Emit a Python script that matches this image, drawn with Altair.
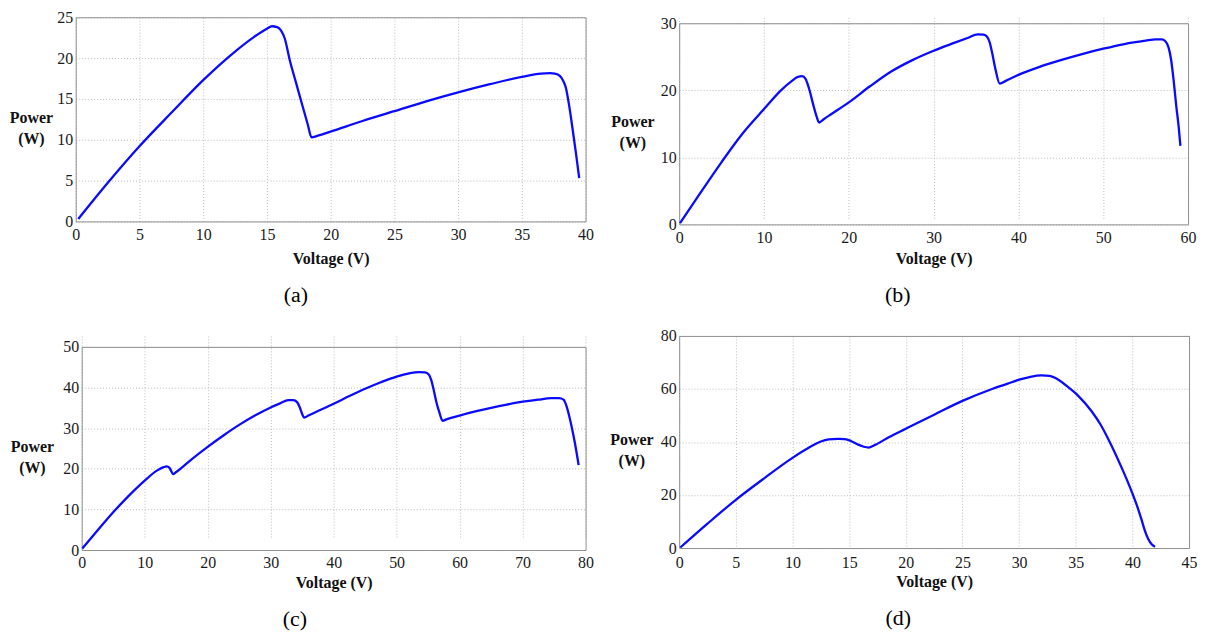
import altair as alt
import pandas as pd

# ---------------- data ----------------
# (a)
volt_a = [0.2, 2.5, 5, 7.5, 10, 12.5, 14, 15, 15.4, 15.8, 16.1, 16.4, 16.8, 17.3, 17.8, 18.2,
          18.5, 19.0, 20, 22.5, 25, 27.5, 30, 32.5, 35, 36.5, 37.2, 37.6, 38.0, 38.25, 38.45,
          38.7, 39.0, 39.25, 39.5]
power_a = [0.3, 4.7, 9.2, 13.3, 17.3, 20.8, 22.6, 23.6, 23.9, 23.8, 23.4, 22.4, 19.7, 16.9, 14.1, 11.9,
           10.3, 10.5, 11.0, 12.3, 13.5, 14.7, 15.8, 16.8, 17.7, 18.1, 18.15, 18.1, 17.8, 17.2, 16.4,
           14.3, 11.1, 8.3, 5.3]

# (b)
volt_b = [0.1, 2.5, 5, 7.5, 10, 12, 13.3, 14.0, 14.5, 14.9, 15.3, 15.8, 16.2, 16.5, 17.0, 18, 20,
          22.5, 25, 27.5, 30, 32.5, 34, 35.2, 35.9, 36.3, 36.6, 36.9, 37.3, 37.8, 38.5, 40, 42.5,
          45, 47.5, 50, 52.5, 55, 56.2, 56.9, 57.3, 57.7, 58.0, 58.3, 58.6, 58.9, 59.1]
power_b = [0.2, 4.7, 9.3, 13.6, 17.2, 20.0, 21.4, 22.0, 22.1, 21.7, 20.3, 17.9, 16.1, 15.2, 15.65, 16.5, 18.2,
           20.6, 22.8, 24.5, 25.9, 27.1, 27.8, 28.35, 28.3, 28.0, 27.2, 25.6, 23.1, 21.0, 21.4, 22.3, 23.5,
           24.5, 25.4, 26.2, 26.9, 27.4, 27.6, 27.6, 27.35, 26.4, 24.6, 21.5, 17.8, 14.5, 11.7]

# (c)
volt_c = [0.1, 2.5, 5, 7.5, 10, 12, 13.0, 13.5, 13.9, 14.2, 14.5, 15.0, 17.5, 20, 22.5, 25, 27.5, 30,
          31.5, 32.8, 33.6, 34.2, 34.6, 35.0, 35.3, 36, 37.5, 40, 42.5, 45, 47.5, 50, 52, 53.5, 54.5,
          55.1, 55.5, 55.9, 56.3, 56.8, 57.3, 58, 60, 62.5, 65, 67.5, 70, 72.5, 74.5, 75.8, 76.5,
          77.0, 77.4, 77.8, 78.3, 78.9]
power_c = [0.4, 4.8, 9.3, 13.4, 17.1, 19.6, 20.4, 20.6, 20.3, 19.5, 18.7, 19.2, 22.4, 25.4, 28.2, 30.8, 33.1, 35.1,
           36.1, 36.9, 36.9, 36.4, 35.2, 33.5, 32.6, 33.1, 34.2, 36.0, 37.9, 39.7, 41.3, 42.7, 43.5, 43.8, 43.7,
           43.2, 41.8, 39.3, 36.5, 33.8, 31.8, 32.2, 33.1, 34.1, 35.0, 35.8, 36.5, 37.0, 37.4, 37.4, 37.0,
           35.3, 33.0, 30.3, 26.4, 20.9]

# (d)
volt_d = [0.1, 2.5, 5, 7.5, 10, 11.5, 12.5, 13.2, 14, 14.6, 15.2, 15.8, 16.3, 16.7, 17.3, 18.5, 20,
          22.5, 25, 27.5, 29, 30, 31, 32, 32.7, 33.5, 34.3, 35.2, 36.4, 37.2, 38, 39, 39.5, 40, 40.5,
          40.8, 41.1, 41.4, 41.7, 42]
power_d = [0.2, 9.2, 18.2, 26.3, 34.0, 38.0, 40.2, 41.0, 41.2, 41.1, 40.3, 39.0, 38.2, 37.9, 38.9, 41.8, 45.0,
           50.3, 55.5, 59.8, 62.0, 63.5, 64.6, 65.1, 64.9, 63.4, 60.8, 57.5, 51.6, 46.5, 40.0, 30.8, 25.9, 20.6,
           14.8, 10.8, 6.6, 3.4, 1.4, 0.5]

captions = ["(a)", "(b)", "(c)", "(d)"]
x_ticks = [list(range(0, 41, 5)), list(range(0, 61, 10)), list(range(0, 81, 10)), list(range(0, 46, 5))]
y_ticks = [list(range(0, 26, 5)), list(range(0, 31, 10)), list(range(0, 51, 10)), list(range(0, 81, 20))]

LINE = "#0a0aff"
FRAME = "#8f8f8f"
GRID = "#bcbcbc"
SERIF = "Liberation Serif"


def panel(v, p, xt, yt, cap, w, h, xr, yr, title_x, lab_pad, ttl_pad, cap_off, cap_dx):
    """xr / yr: pixel range of the framed plot inside the panel's view."""
    df = pd.DataFrame({"Voltage": v, "Power": p})
    xs = alt.Scale(domain=[xt[0], xt[-1]], range=xr, nice=False, zero=False)
    ys = alt.Scale(domain=[yt[0], yt[-1]], range=yr, nice=False, zero=False)
    base = alt.Chart(df)
    line = base.mark_line(color=LINE, strokeWidth=2.3, interpolate="monotone").encode(
        x=alt.X("Voltage:Q", scale=xs,
                axis=alt.Axis(values=xt, orient="bottom", title="Voltage (V)", grid=True,
                              ticks=False, labelPadding=lab_pad, titlePadding=ttl_pad,
                              labelFlush=False, labelOverlap=False,
                              titleX=(xr[0] + xr[1]) / 2, titleAlign="center")),
        y=alt.Y("Power:Q", scale=ys,
                axis=alt.Axis(values=yt, orient="left", title=["Power", "(W)"], grid=True,
                              ticks=False, labelPadding=3, labelFlush=False, labelOverlap=False,
                              offset=-xr[0],
                              titleAngle=0, titleAlign="center", titleBaseline="middle",
                              titleX=title_x, titleY=(yr[0] + yr[1]) / 2 - 2,
                              titleLineHeight=21)),
    )
    # invisible twin that carries the top and right edges of the frame
    frame = base.mark_line(opacity=0).encode(
        x=alt.X("Voltage:Q", scale=xs,
                axis=alt.Axis(values=xt, orient="top", labels=False, ticks=False, grid=False,
                              domain=True, offset=-yr[1], title=None)),
        y=alt.Y("Power:Q", scale=ys,
                axis=alt.Axis(values=yt, orient="right", labels=False, ticks=False, grid=False,
                              domain=True, offset=xr[1] - w, title=None)),
    )
    return alt.layer(line, frame).properties(
        width=w, height=h,
        title=alt.TitleParams(cap, orient="bottom", anchor="middle", frame="group",
                              dx=cap_dx, offset=cap_off, font=SERIF, fontSize=22,
                              fontWeight="normal", color="black"),
    )


pa = panel(volt_a, power_a, x_ticks[0], y_ticks[0], captions[0], 512, 205, [0, 512], [205, 0],
           -45, 5, 8, 19, -35)
pb = panel(volt_b, power_b, x_ticks[1], y_ticks[1], captions[1], 511, 208, [0, 511], [208, 6],
           -47, 5, 5, 19, -36)
pc = panel(volt_c, power_c, x_ticks[2], y_ticks[2], captions[2], 512, 215, [6, 512], [215, 11],
           -50, 5, 4, 18, -36)
pdd = panel(volt_d, power_d, x_ticks[3], y_ticks[3], captions[3], 512, 213, [0, 512], [213, 0],
            -48, 7, 3, 18, -36)

chart = alt.vconcat(
    alt.hconcat(pa, pb, spacing=17),
    alt.hconcat(pc, pdd, spacing=16),
    spacing=22,
).properties(
    padding={"left": 1, "top": 0, "right": 0, "bottom": 0},
    background="white",
).configure_view(
    strokeWidth=0,
).configure_axis(
    labelFont=SERIF, labelFontSize=16, labelColor="#1a1a1a",
    titleFont=SERIF, titleFontSize=16, titleFontWeight="bold", titleColor="#111111",
    domainColor=FRAME, domainWidth=1,
    gridColor=GRID, gridDash=[1, 2], gridWidth=1, gridOpacity=1,
)

chart.save("out.html", embed_options={"renderer": "svg", "actions": False})
